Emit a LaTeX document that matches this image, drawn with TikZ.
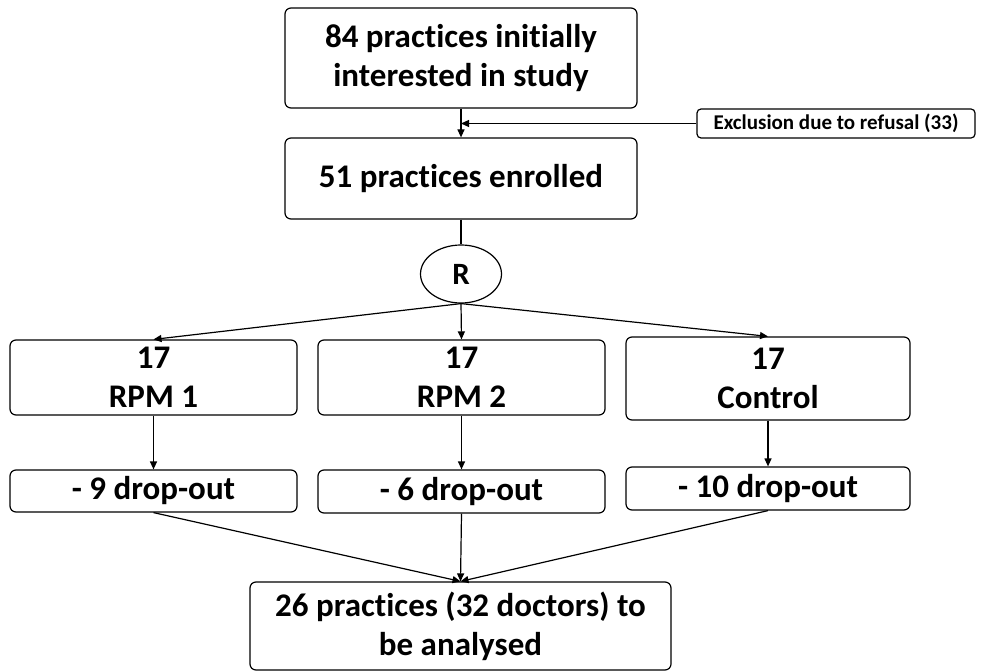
\documentclass[tikz,border=0pt]{standalone}
\usepackage{fontspec}
\setmainfont{Carlito}[Ligatures=NoCommon]
\usetikzlibrary{arrows.meta,shapes.geometric}

\begin{document}
\begin{tikzpicture}
[x=1pt, y=-1pt, line width=1.2pt,
 StepBox/.style={rectangle, rounded corners=6pt,
    draw, align=center, inner sep=0pt,
    font=\fontsize{33}{39}\selectfont\bfseries},
 NoteBox/.style={rectangle, rounded corners=4pt,
    draw, inner sep=0pt,
    minimum width=278pt, minimum height=29pt,
    font=\fontsize{21}{25}\selectfont\bfseries},
 RNode/.style={ellipse,
    draw, inner sep=0pt,
    minimum width=81pt, minimum height=58pt,
    font=\fontsize{31}{36}\selectfont\bfseries},
 Flow/.style={-{Triangle[length=8pt,width=7pt]}}]
\useasboundingbox (0,0) rectangle (981,671);

\node[StepBox, minimum width=352pt, minimum height=100pt] (interested) at (461,58)
    {84 practices initially\\interested in study};
\node[NoteBox] (refusal) at (836,123.5) {Exclusion due to refusal (33)};
\node[StepBox, minimum width=352pt, minimum height=81pt] (enrolled) at (461,178.5)
    {51 practices enrolled};
\node[RNode] (rand) at (461,274) {R};

\node[StepBox, minimum width=287pt, minimum height=75pt] (rpm1) at (153.5,377.5) {17\\RPM 1};
\node[StepBox, minimum width=287pt, minimum height=75pt] (rpm2) at (461.5,377.5) {17\\RPM 2};
\node[StepBox, minimum width=284pt, minimum height=83pt] (control) at (768,378.5) {17\\Control};

\node[StepBox, minimum width=287pt, minimum height=42pt] (drop1) at (153.5,491) {- 9 drop-out};
\node[StepBox, minimum width=287pt, minimum height=43pt] (drop2) at (461.5,491.5) {- 6 drop-out};
\node[StepBox, minimum width=284pt, minimum height=43pt] (drop3) at (768,488.5) {- 10 drop-out};

\node[StepBox, minimum width=421pt, minimum height=88pt] (analysed) at (460.5,626)
    {26 practices (32 doctors) to\\be analysed};

\draw[Flow] (interested.south) -- (enrolled.north);
\draw[Flow] (refusal.west) -- (refusal.west -| interested.south);
\draw (enrolled.south) -- (rand.north);
\foreach \arm in {rpm1,rpm2,control}
    \draw[Flow] (rand.south) -- (\arm.north);
\draw[Flow] (rpm1.south) -- (drop1.north);
\draw[Flow] (rpm2.south) -- (drop2.north);
\draw[Flow] (control.south) -- (drop3.north);
\foreach \d in {drop1,drop2,drop3}
    \draw[Flow] (\d.south) -- (analysed.north);
\end{tikzpicture}
\end{document}
